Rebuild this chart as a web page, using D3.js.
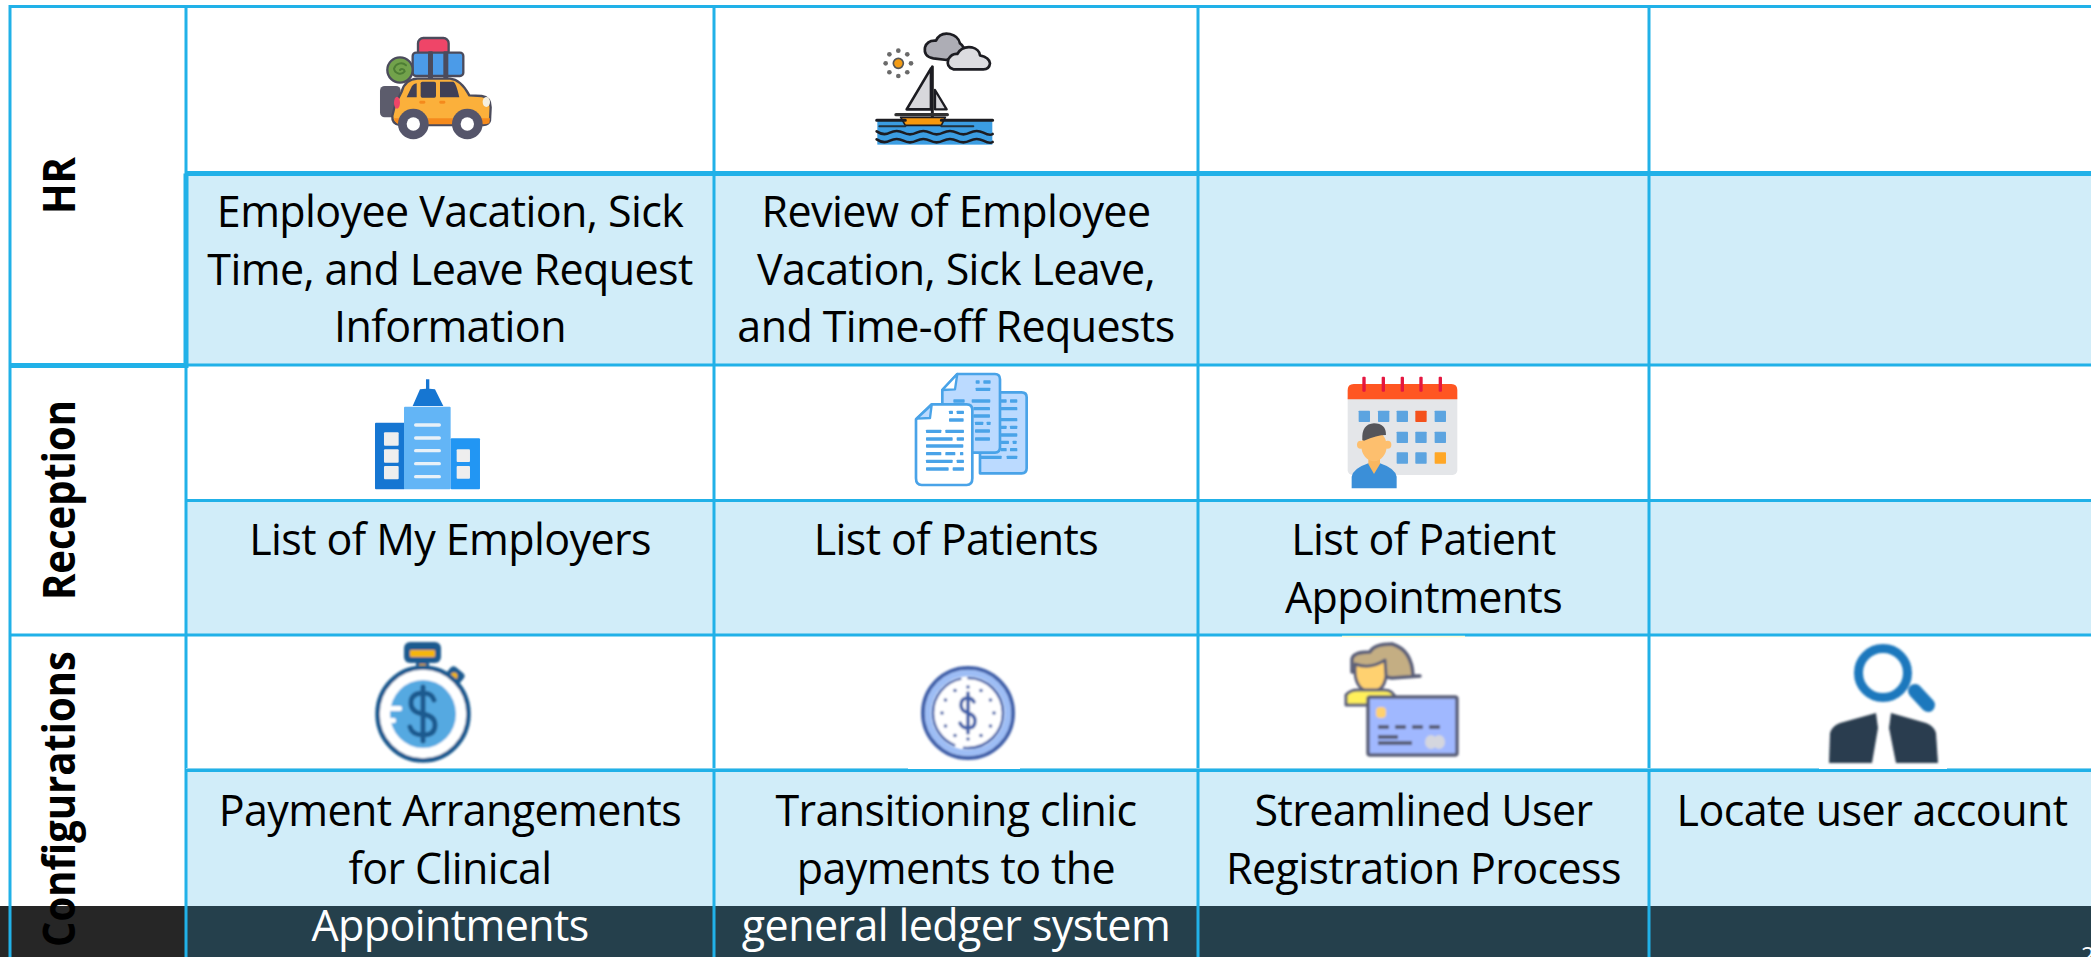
<!DOCTYPE html>
<html>
<head>
<meta charset="utf-8">
<title>Feature matrix</title>
<script src="https://cdn.jsdelivr.net/npm/d3@7"></script>
<style>
html, body { margin: 0; padding: 0; background: #fff; overflow: hidden; }
svg { display: block; }
text { font-family: "Open Sans", sans-serif; }
</style>
</head>
<body>
<script>
//table content
var groups = ["HR", "Reception", "Configurations"];
var columns = ["c1", "c2", "c3", "c4"];
var hrLabels = [
    ["Employee Vacation, Sick", "Time, and Leave Request", "Information"],
    ["Review of Employee", "Vacation, Sick Leave,", "and Time-off Requests"],
    [],
    []
];
var receptionLabels = [
    ["List of My Employers"],
    ["List of Patients"],
    ["List of Patient", "Appointments"],
    []
];
var configLabels = [
    ["Payment Arrangements", "for Clinical", "Appointments"],
    ["Transitioning clinic", "payments to the", "general ledger system"],
    ["Streamlined User", "Registration Process"],
    ["Locate user account"]
];
var hrIcons = ["car", "boat", null, null];
var receptionIcons = ["building", "documents", "calendar", null];
var configIcons = ["stopwatch", "clock", "card", "search"];
var pageNumber = "2";

//layout
var width = 2091,
    height = 957;
var colEdges = [186, 714, 1198, 1649, 2095];
var rowLines = [6.5, 173.5, 365, 500.5, 635, 770.5, 957];
var bandTop = 906;
var lineColor = "#21b1e8",
    cellColor = "#d1edf9";

var svg = d3.select("body").append("svg")
    .attr("width", width)
    .attr("height", height);

var defs = svg.append("defs");
defs.append("filter").attr("id", "soft")
    .attr("x", "-10%").attr("y", "-10%").attr("width", "120%").attr("height", "120%")
    .append("feGaussianBlur").attr("stdDeviation", 0.8);

//column edges and row lines through ordinal scales
var colIndex = d3.range(columns.length + 1);
var xEdge = d3.scaleOrdinal().domain(colIndex).range(colEdges);
var rowIndex = d3.range(rowLines.length);
var yLine = d3.scaleOrdinal().domain(rowIndex).range(rowLines);

drawCells();
drawBand();
drawLabels();
drawIcons();
drawGrid();
drawBandText();

function drawCells(){
    //the pale row under each icon row
    [1, 3, 5].forEach(function(r){
        svg.append("rect")
            .attr("x", xEdge(0))
            .attr("y", yLine(r))
            .attr("width", width - xEdge(0))
            .attr("height", yLine(r + 1) - yLine(r))
            .attr("fill", cellColor);
    });
};

function drawBand(){
    svg.append("rect").attr("x", 0).attr("y", bandTop)
        .attr("width", xEdge(0)).attr("height", height - bandTop).attr("fill", "#262626");
    svg.append("rect").attr("x", xEdge(0)).attr("y", bandTop)
        .attr("width", width - xEdge(0)).attr("height", height - bandTop).attr("fill", "#25404c");
};

function drawGrid(){
    var left = 10;
    var g = svg.append("g").attr("stroke", lineColor).attr("fill", "none");
    //horizontal lines
    var hWidths = [3, 5, 3, 3, 3, 3];
    d3.range(6).forEach(function(r){
        g.append("line")
            .attr("x1", (r == 0 || r == 2 || r == 4) ? left : xEdge(0))
            .attr("x2", width)
            .attr("y1", yLine(r)).attr("y2", yLine(r))
            .attr("stroke-width", hWidths[r]);
    });
    //left edge and the group divider
    g.append("line").attr("x1", left).attr("x2", left).attr("y1", 5).attr("y2", height).attr("stroke-width", 3);
    colIndex.slice(0, 4).forEach(function(c){
        g.append("line")
            .attr("x1", xEdge(c)).attr("x2", xEdge(c))
            .attr("y1", 5).attr("y2", height)
            .attr("stroke-width", 3);
    });
    //heavier border around the first label cell
    g.append("line").attr("x1", xEdge(0)).attr("x2", xEdge(0)).attr("y1", yLine(1)).attr("y2", 368).attr("stroke-width", 5);
    g.append("line").attr("x1", left).attr("x2", xEdge(0) + 2).attr("y1", 365.5).attr("y2", 365.5).attr("stroke-width", 5);
    //pale edge left over from the pasted icons
    [[xEdge(0), 908], [1020, 1819], [1947, width]].forEach(function(d){
        g.append("line").attr("x1", d[0]).attr("x2", d[1]).attr("y1", 768.5).attr("y2", 768.5)
            .attr("stroke", "#86d2ef").attr("stroke-width", 1);
    });
    g.append("line").attr("x1", 1342).attr("x2", 1465).attr("y1", 636.5).attr("y2", 636.5)
        .attr("stroke", "#fdfbd2").attr("stroke-width", 1.5);
};

function drawLabels(){
    //rotated group names
    var groupCenters = [185.5, 500, 799];
    svg.selectAll(".group")
        .data(groups)
        .enter()
        .append("text")
        .attr("class", "group")
        .attr("transform", function(d, i){ return "translate(75," + groupCenters[i] + ") rotate(-90) scale(1,1.1)"; })
        .attr("text-anchor", "middle")
        .attr("font-size", 40)
        .attr("font-weight", 700)
        .attr("fill", "#000")
        .text(function(d){ return d; });

    drawRowText(hrLabels, 227);
    drawRowText(receptionLabels, 555);
    drawRowText(configLabels, 826);
};

function drawRowText(labels, firstBaseline){
    var lineStep = 57.5;
    labels.forEach(function(lines, c){
        var cx = (xEdge(c) + xEdge(c + 1)) / 2;
        svg.selectAll(null)
            .data(lines)
            .enter()
            .append("text")
            .attr("x", cx)
            .attr("y", function(d, i){ return firstBaseline + i * lineStep; })
            .attr("text-anchor", "middle")
            .attr("font-size", 43)
            .attr("letter-spacing", -0.6)
            .attr("fill", function(d, i){ return firstBaseline + i * lineStep > bandTop ? "#fff" : "#000"; })
            .text(function(d){ return d; });
    });
};

function drawBandText(){
    //page number cut by the edge of the slide
    svg.append("text")
        .attr("x", 2081).attr("y", 964)
        .attr("font-size", 24).attr("fill", "#fff")
        .text(pageNumber);
};

//small shape helpers
function shape(g, tag, attrs){
    var el = g.append(tag);
    Object.keys(attrs).forEach(function(k){ el.attr(k, attrs[k]); });
    return el;
};
function box(g, x, y, w, h, fill, rx){
    return shape(g, "rect", {x: x, y: y, width: w, height: h, fill: fill, rx: rx || 0});
};
function pen(g, d, fill, stroke, sw){
    return shape(g, "path", {d: d, fill: fill, stroke: stroke || "none", "stroke-width": sw || 0, "stroke-linejoin": "round", "stroke-linecap": "round"});
};

function drawIcons(){
    var painters = {car: car, boat: boat, building: building, documents: documents,
        calendar: calendar, stopwatch: stopwatch, clock: clock, card: card, search: search};
    hrIcons.concat(receptionIcons, configIcons).forEach(function(name){
        if (name){
            painters[name](svg.append("g").attr("class", "icon " + name).attr("filter", "url(#soft)"));
        }
    });
};

function car(g){
    g.attr("transform", "translate(340,10) scale(0.3333)");
    var ink = "#4c4c5c";
    box(g, 234, 84, 92, 56, "#ef4468", 16).attr("stroke", ink).attr("stroke-width", 7);
    box(g, 218, 128, 152, 70, "#4c9be8", 10).attr("stroke", ink).attr("stroke-width", 7);
    box(g, 264, 124, 15, 84, ink, 4);
    box(g, 310, 124, 15, 84, ink, 4);
    shape(g, "circle", {cx: 180, cy: 180, r: 38, fill: "#72a24c", stroke: ink, "stroke-width": 7});
    pen(g, "M180 180a8 8 0 0 1 14 4a18 18 0 0 1-32 -8a22 22 0 0 1 36-10", "none", "#4e7d34", 6);
    box(g, 120, 228, 62, 94, "#5c5c6c", 14);
    pen(g, "M165 285L185 245Q195 208 232 206L330 206Q362 208 388 256L425 258Q452 262 452 292L450 332Q446 345 430 345L180 345Q155 342 157 318Z", "#fbb03b", ink, 7);
    pen(g, "M162 325L450 325L448 340Q440 343 430 343L180 343Q165 342 162 325Z", "#f58a1f");
    shape(g, "ellipse", {cx: 171, cy: 278, rx: 9, ry: 18, fill: "#ef4468"});
    pen(g, "M200 262L216 228Q222 220 230 220L230 262Z", "#3f3f56");
    box(g, 242, 215, 46, 48, "#3f3f56", 5);
    pen(g, "M300 215L340 215Q348 217 358 262L300 262Z", "#3f3f56");
    shape(g, "ellipse", {cx: 439, cy: 276, rx: 11, ry: 15, fill: "#f5f0e0"});
    box(g, 238, 272, 18, 9, "#f58a1f", 4);
    box(g, 298, 272, 18, 9, "#f58a1f", 4);
    [220, 382].forEach(function(cx){
        shape(g, "circle", {cx: cx, cy: 342, r: 46, fill: "#55556a"});
        shape(g, "circle", {cx: cx, cy: 342, r: 20, fill: "#fff"});
    });
};

function boat(g){
    g.attr("transform", "translate(840,10) scale(0.3333)");
    var ink = "#1e1e22";
    pen(g, "M280 145Q250 140 255 112Q262 90 288 92Q300 66 330 72Q355 78 360 100Q375 110 370 125L320 150Z", "#adadb5", ink, 8);
    pen(g, "M340 178Q318 170 325 148Q335 130 352 132Q365 108 395 112Q418 118 420 136Q448 142 450 160Q448 178 430 178Z", "#dcdce0", ink, 8);
    shape(g, "circle", {cx: 175, cy: 160, r: 15, fill: "#f39c12", stroke: "#555", "stroke-width": 5});
    d3.range(8).forEach(function(i){
        var a = i * Math.PI / 4;
        shape(g, "circle", {cx: 175 + 38 * Math.cos(a), cy: 160 + 38 * Math.sin(a), r: 7, fill: "#6a6a6a"});
    });
    pen(g, "M273 175L273 298L200 298Z", "#d8d8dc", ink, 8);
    pen(g, "M285 240L320 298L285 298Z", "#d8d8dc", ink, 7);
    pen(g, "M277 170L277 322", "none", ink, 9);
    pen(g, "M168 314L322 314", "none", "#333", 10);
    box(g, 112, 332, 345, 72, "#3b9de2");
    pen(g, "M182 322L316 322L304 346L196 346Z", "#f7980e", ink, 5);
    pen(g, "M110 331L196 331M304 331L458 331", "none", ink, 9);
    pen(g, "M118 349L196 349M304 349L400 349", "none", "#22303c", 6);
    pen(g, "M110 364Q130 378 150 368T190 368T230 368T270 368T310 368T350 368T390 368T430 368T458 372", "none", ink, 8);
    pen(g, "M110 388Q130 402 150 392T190 392T230 392T270 392T310 392T350 392T390 392T430 392T458 396", "none", ink, 8);
};

function building(g){
    g.attr("transform", "translate(340,370) scale(0.3333)");
    box(g, 105, 158, 90, 200, "#1976d2", 3);
    box(g, 192, 110, 140, 248, "#64b5f6", 3);
    box(g, 332, 205, 88, 153, "#2196f3", 3);
    pen(g, "M218 108L240 58L258 56L258 28L268 28L268 56L285 58L310 108Z", "#1976d2");
    [187, 238, 288].forEach(function(y){ box(g, 132, y, 44, 40, "#eeeeee", 3); });
    [238, 288].forEach(function(y){ box(g, 350, y, 40, 38, "#eeeeee", 3); });
    [160, 199, 237, 276, 315].forEach(function(y){ box(g, 222, y, 81, 10, "#e8f1f8", 5); });
};

function documents(g){
    g.attr("transform", "translate(880,360) scale(0.3333)");
    var edge = "#4aa3e8", pale = "#bbdaff";
    pen(g, "M300 97L425 97Q440 97 440 112L440 325Q440 340 425 340L300 340Z", pale, edge, 8);
    pen(g, "M187 90L232 42L345 42Q360 42 360 58L360 262Q360 278 345 278L200 278Q187 278 187 262Z", pale, edge, 8);
    pen(g, "M187 90L225 88L232 42Z", "#fff", edge, 7);
    pen(g, "M108 178L155 133L260 133Q277 133 277 150L277 355Q277 375 260 375L125 375Q108 375 108 355Z", "#fff", edge, 8);
    pen(g, "M110 176L150 174L155 135Z", pale, edge, 7);
    //text lines, as [x, y, width]
    [[207, 157, 12], [230, 157, 22], [207, 180, 44], [138, 214, 46], [196, 214, 56], [138, 237, 80], [230, 237, 22],
     [138, 258, 112], [138, 281, 46], [196, 281, 30], [240, 281, 10], [138, 304, 80], [230, 304, 22], [138, 327, 68], [218, 327, 34],
     [287, 66, 12], [310, 66, 22], [287, 88, 44], [220, 123, 34], [275, 123, 56], [280, 146, 50], [280, 168, 50], [285, 190, 25],
     [320, 190, 12], [285, 213, 45], [285, 237, 45], [362, 123, 18], [390, 123, 22], [362, 146, 50], [362, 179, 50], [362, 202, 18],
     [390, 202, 22], [362, 225, 50], [362, 247, 25], [398, 247, 12], [362, 269, 18], [390, 269, 22], [300, 292, 65], [380, 292, 32]
    ].forEach(function(d){ box(g, d[0], d[1] - 5, d[2], 10, edge, 2); });
};

function calendar(g){
    g.attr("transform", "translate(1320,370) scale(0.3333)");
    box(g, 83, 70, 329, 245, "#e4e6e9", 14);
    pen(g, "M83 88L83 60Q83 42 101 42L394 42Q412 42 412 60L412 88Z", "#ff5722");
    [132, 190, 247, 303, 361].forEach(function(x){ box(g, x - 5, 20, 10, 45, "#e5173f", 3); });
    [[116, 122, "#5ba4e0"], [174, 122, "#5ba4e0"], [230, 122, "#5ba4e0"], [286, 122, "#f4511e"], [344, 122, "#5ba4e0"],
     [230, 185, "#5ba4e0"], [286, 185, "#5ba4e0"], [344, 185, "#5ba4e0"],
     [230, 247, "#5ba4e0"], [286, 247, "#5ba4e0"], [344, 247, "#ffa726"]].forEach(function(d){
        box(g, d[0], d[1], 34, 34, d[2], 2);
    });
    pen(g, "M95 355L95 320Q100 295 145 280L180 280Q225 295 230 320L230 355Z", "#3a8fd8");
    pen(g, "M145 255L180 255L180 282L162 312L145 282Z", "#f9b760");
    shape(g, "ellipse", {cx: 122, cy: 224, rx: 11, ry: 12, fill: "#fdbf6e"});
    shape(g, "ellipse", {cx: 203, cy: 224, rx: 11, ry: 12, fill: "#fdbf6e"});
    shape(g, "ellipse", {cx: 162, cy: 228, rx: 38, ry: 46, fill: "#fdbf6e"});
    pen(g, "M127 210Q124 162 162 160Q198 160 198 195Q170 195 132 212Z", "#55555a");
};

function stopwatch(g){
    var ink = "#1d5a8f";
    box(g, 404, 642, 37, 21, ink, 6);
    box(g, 410, 650, 25, 7, "#f5b60c", 1);
    box(g, 416, 662, 13, 10, ink, 1);
    box(g, 419, 664, 7, 6, "#f5b60c", 1);
    shape(g, "rect", {x: 446, y: 668, width: 17, height: 17, rx: 4, fill: ink, transform: "rotate(40 454 676)"});
    shape(g, "circle", {cx: 454, cy: 676, r: 3.5, fill: "#f5b60c"});
    shape(g, "ellipse", {cx: 423, cy: 714, rx: 45.5, ry: 46.5, fill: "#fff", stroke: ink, "stroke-width": 4.5});
    shape(g, "ellipse", {cx: 423, cy: 714, rx: 33, ry: 34, fill: "#54a9e1"});
    box(g, 386, 706, 16, 5, "#fff", 2);
    box(g, 388, 718, 8, 5, "#fff", 2);
    pen(g, "M434 700Q432 693 423 693Q411 693 411 703Q411 712 423 714Q435 716 435 725Q435 735 423 735Q412 735 410 727M423 687L423 741", "none", ink, 5);
};

function clock(g){
    var cx = 968, cy = 713;
    shape(g, "circle", {cx: cx, cy: cy, r: 45, fill: "none", stroke: "#3f5fa8", "stroke-width": 4});
    shape(g, "circle", {cx: cx, cy: cy, r: 40, fill: "none", stroke: "#9dbdf5", "stroke-width": 6.5});
    shape(g, "circle", {cx: cx, cy: cy, r: 35, fill: "#fff", stroke: "#3f5fa8", "stroke-width": 2.5, "stroke-dasharray": "60 8 90 6"});
    d3.range(12).forEach(function(i){
        var a = i * Math.PI / 6;
        shape(g, "circle", {cx: cx + 26 * Math.cos(a), cy: cy + 26 * Math.sin(a), r: 1.8, fill: "#3f5fa8"});
    });
    pen(g, "M974 702Q972 698 968 698Q961 698 961 705Q961 711 968 713Q975 715 975 721Q975 728 968 728Q962 728 960 723M968 693L968 733", "none", "#3f5fa8", 3.5);
};

function card(g){
    var ink = "#5a5f78";
    pen(g, "M1352 672L1352 660Q1352 652 1370 652Q1374 644 1392 644Q1412 650 1413 676L1420 676L1392 678L1354 672Z", "#c4ae83", ink, 3.5);
    pen(g, "M1355 664Q1370 670 1385 660L1386 676Q1384 692 1370 692Q1356 690 1355 672Z", "#ffd170", ink, 3);
    pen(g, "M1346 705L1346 695Q1350 690 1358 690L1384 690Q1394 690 1396 700L1396 705Z", "#fff05a", ink, 3);
    box(g, 1368, 697, 89, 58, "#a0b8ff", 2).attr("stroke", ink).attr("stroke-width", 3.5);
    box(g, 1376, 707, 10, 11, "#ffd170", 4);
    [1378, 1395, 1412, 1429].forEach(function(x){ box(g, x, 725, 11, 4, ink, 1); });
    box(g, 1378, 735, 20, 4, ink);
    box(g, 1378, 741, 34, 4, ink);
    shape(g, "ellipse", {cx: 1431, cy: 742, rx: 6, ry: 7, fill: "#d4d6de"});
    shape(g, "ellipse", {cx: 1439, cy: 742, rx: 6, ry: 7, fill: "#d4d6de"});
};

function search(g){
    shape(g, "circle", {cx: 1883, cy: 673, r: 24.5, fill: "none", stroke: "#1f78bd", "stroke-width": 9});
    pen(g, "M1915 691L1928 705", "none", "#1f78bd", 14);
    pen(g, "M1876 713L1878 728L1872 763L1829 763L1830 733Q1832 726 1840 723Z", "#2c3e50");
    pen(g, "M1891 713L1889 728L1896 763L1938 763L1936 733Q1934 726 1926 723Z", "#2c3e50");
};
</script>
</body>
</html>
